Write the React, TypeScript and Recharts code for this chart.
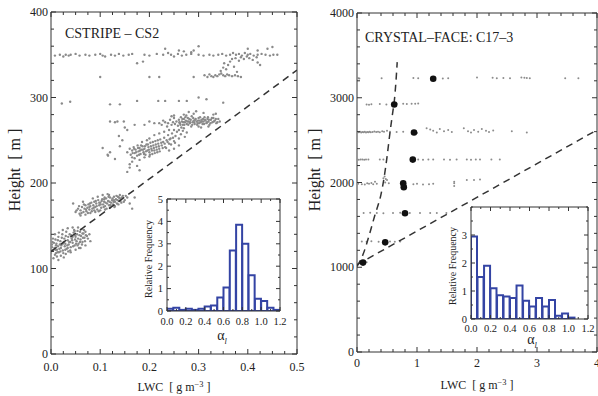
import React from 'react';
import { ScatterChart, Scatter, XAxis, YAxis, ComposedChart, Bar } from 'recharts';

const FONT = '"Liberation Serif", "Times New Roman", serif';

// ---------- Left panel (CSTRIPE - CS2): LWC [g m^-3], Height [m] ----------
const cs2Row350 = [
  [0.008, 349], [0.018, 350], [0.025, 348], [0.03, 350], [0.036, 349], [0.04, 350], [0.05, 351], [0.058, 349],
  [0.07, 350], [0.078, 349], [0.09, 350], [0.1, 351], [0.105, 349], [0.11, 348], [0.122, 350], [0.13, 349],
  [0.138, 351], [0.147, 349], [0.158, 350], [0.165, 351], [0.19, 350], [0.2, 349], [0.215, 351], [0.228, 350],
  [0.238, 352], [0.244, 350], [0.25, 348], [0.258, 351], [0.266, 349], [0.275, 350], [0.285, 351], [0.3, 350],
  [0.31, 349], [0.322, 350], [0.33, 349], [0.34, 350], [0.348, 351], [0.356, 349], [0.364, 350], [0.37, 352],
  [0.376, 350], [0.382, 351], [0.388, 349], [0.394, 352], [0.4, 350], [0.405, 351], [0.412, 349], [0.42, 350],
  [0.428, 351], [0.436, 350], [0.445, 349], [0.452, 350], [0.46, 350],
  [0.232, 357], [0.3, 360], [0.26, 355], [0.27, 354], [0.4, 357], [0.42, 355], [0.44, 357], [0.45, 359],
  [0.187, 342], [0.285, 353], [0.29, 355],
];
const cs2Upper = [
  [0.312, 326], [0.318, 324], [0.322, 327], [0.326, 325], [0.33, 324], [0.334, 326], [0.338, 325], [0.342, 327],
  [0.346, 328], [0.35, 326], [0.354, 325], [0.358, 327], [0.362, 326], [0.368, 325], [0.374, 326], [0.38, 325],
  [0.386, 324], [0.345, 331], [0.35, 335], [0.352, 340], [0.356, 333], [0.36, 338], [0.364, 342], [0.368, 345],
  [0.372, 336], [0.375, 346], [0.378, 330], [0.382, 343], [0.386, 347], [0.392, 345], [0.398, 348], [0.403, 346],
  [0.41, 344], [0.418, 347], [0.425, 338], [0.42, 341],
  [0.1, 324], [0.2, 324], [0.22, 324], [0.29, 324], [0.175, 340],
];
const cs2Row295 = [
  [0.022, 293], [0.039, 295], [0.12, 292], [0.14, 292], [0.175, 296], [0.218, 296], [0.232, 296], [0.26, 296],
  [0.276, 296], [0.35, 294], [0.3, 300], [0.316, 298],
];
const cs2Mid270 = [
  [0.22, 270], [0.225, 268], [0.228, 273], [0.232, 271], [0.236, 266], [0.238, 270], [0.242, 274], [0.245, 268],
  [0.248, 271], [0.25, 276], [0.252, 269], [0.255, 272], [0.258, 267], [0.26, 274], [0.262, 270], [0.264, 277],
  [0.266, 272], [0.268, 268], [0.27, 275], [0.272, 271], [0.274, 273], [0.276, 269], [0.278, 276], [0.28, 272],
  [0.282, 270], [0.284, 274], [0.286, 278], [0.288, 271], [0.29, 273], [0.292, 269], [0.294, 275], [0.296, 272],
  [0.298, 270], [0.3, 276], [0.302, 273], [0.304, 271], [0.306, 274], [0.308, 269], [0.31, 272], [0.312, 277],
  [0.314, 273], [0.316, 270], [0.318, 275], [0.32, 272], [0.322, 268], [0.325, 274], [0.328, 271], [0.33, 276],
  [0.333, 273], [0.336, 270], [0.34, 275], [0.343, 272], [0.27, 280], [0.28, 283], [0.29, 281], [0.31, 282],
  [0.33, 280], [0.25, 279], [0.265, 265], [0.285, 266], [0.305, 265], [0.32, 266], [0.335, 281], [0.24, 262],
  [0.26, 262], [0.245, 278], [0.275, 279], [0.295, 284], [0.3, 266], [0.2, 272], [0.21, 270], [0.19, 268],
];
const cs2Mid270Core = [
  [0.261, 271], [0.263, 268], [0.267, 275], [0.269, 271], [0.271, 268], [0.273, 277], [0.277, 272], [0.279, 268],
  [0.281, 275], [0.283, 271], [0.287, 268], [0.289, 276], [0.291, 271], [0.293, 274], [0.297, 268], [0.299, 273],
  [0.301, 270], [0.303, 277], [0.307, 272], [0.309, 275], [0.311, 269], [0.313, 274], [0.317, 271], [0.319, 277],
  [0.321, 274], [0.324, 270], [0.327, 276], [0.331, 272], [0.335, 275], [0.338, 271],
];
const cs2Mid240 = [
  [0.155, 236], [0.16, 240], [0.162, 233], [0.165, 238], [0.168, 242], [0.17, 235], [0.172, 239], [0.175, 232],
  [0.176, 244], [0.178, 237], [0.18, 241], [0.182, 234], [0.184, 239], [0.186, 243], [0.188, 236], [0.19, 240],
  [0.192, 233], [0.194, 245], [0.196, 238], [0.198, 242], [0.2, 236], [0.202, 247], [0.204, 240], [0.206, 234],
  [0.208, 244], [0.21, 238], [0.212, 249], [0.214, 242], [0.216, 236], [0.218, 246], [0.22, 240], [0.222, 251],
  [0.225, 244], [0.228, 248], [0.23, 253], [0.232, 242], [0.235, 250], [0.238, 256], [0.24, 246], [0.243, 252],
  [0.246, 258], [0.25, 249], [0.253, 255], [0.256, 260], [0.26, 252], [0.264, 257], [0.268, 261], [0.272, 254],
  [0.276, 259], [0.21, 256], [0.22, 258], [0.2, 252], [0.23, 260], [0.25, 262], [0.185, 248], [0.195, 250],
  [0.27, 264], [0.24, 238], [0.25, 240], [0.26, 244], [0.17, 229], [0.19, 230], [0.2, 231], [0.18, 227],
  [0.165, 225], [0.175, 220],
];
const cs2Mid240Core = [
  [0.166, 235], [0.169, 240], [0.173, 236], [0.177, 241], [0.179, 233], [0.181, 238], [0.183, 244], [0.187, 239],
  [0.189, 234], [0.191, 243], [0.193, 237], [0.197, 245], [0.199, 239], [0.201, 233], [0.203, 243], [0.205, 238],
  [0.207, 248], [0.209, 241], [0.211, 235], [0.213, 245], [0.215, 239], [0.217, 250], [0.219, 243], [0.221, 237],
  [0.224, 247], [0.227, 241], [0.231, 246], [0.234, 241], [0.237, 248], [0.241, 251], [0.244, 245], [0.248, 253],
  [0.252, 247],
];
const cs2Scatter = [
  [0.13, 228], [0.16, 222], [0.165, 230], [0.115, 233], [0.138, 255], [0.14, 243], [0.12, 272], [0.13, 271],
  [0.135, 272], [0.148, 272], [0.155, 262], [0.15, 265], [0.17, 268], [0.116, 232], [0.155, 213], [0.16, 218],
  [0.18, 215], [0.105, 241], [0.12, 236], [0.145, 250],
];
const cs2Low172 = [
  [0.05, 166], [0.055, 170], [0.058, 164], [0.06, 168], [0.063, 172], [0.066, 166], [0.068, 170], [0.07, 174],
  [0.072, 167], [0.074, 171], [0.076, 175], [0.078, 169], [0.08, 173], [0.082, 177], [0.084, 170], [0.086, 174],
  [0.088, 178], [0.09, 172], [0.092, 176], [0.094, 169], [0.096, 180], [0.098, 174], [0.1, 177], [0.102, 171],
  [0.104, 181], [0.106, 175], [0.108, 178], [0.11, 173], [0.112, 182], [0.114, 176], [0.116, 179], [0.118, 174],
  [0.12, 183], [0.122, 177], [0.124, 180], [0.126, 175], [0.128, 184], [0.13, 178], [0.132, 181], [0.134, 176],
  [0.136, 184], [0.138, 179], [0.14, 182], [0.143, 177], [0.146, 185], [0.15, 180], [0.155, 183], [0.06, 162],
  [0.07, 163], [0.08, 165], [0.09, 166], [0.1, 168], [0.11, 169], [0.12, 171], [0.13, 173], [0.14, 186],
  [0.085, 182], [0.095, 184], [0.105, 186], [0.115, 187], [0.16, 176], [0.165, 170], [0.045, 176], [0.065, 178],
  [0.17, 183],
];
const cs2Low172Core = [
  [0.052, 168], [0.057, 173], [0.062, 165], [0.067, 175], [0.071, 169], [0.075, 165], [0.079, 176], [0.083, 167],
  [0.087, 171], [0.091, 179], [0.093, 173], [0.097, 167], [0.101, 175], [0.103, 179], [0.107, 172], [0.109, 183],
  [0.111, 177], [0.113, 170], [0.117, 184], [0.119, 178], [0.121, 174], [0.125, 182], [0.127, 178], [0.129, 172],
  [0.133, 185], [0.135, 180], [0.137, 175], [0.141, 179], [0.144, 183], [0.148, 178], [0.152, 185], [0.078, 172],
  [0.088, 168], [0.098, 177], [0.108, 181], [0.118, 186], [0.128, 180], [0.138, 183],
];
const cs2Low130 = [
  [0.0, 118], [0.002, 125], [0.004, 121], [0.006, 130], [0.008, 116], [0.01, 127], [0.012, 122], [0.014, 133],
  [0.016, 119], [0.018, 128], [0.02, 124], [0.022, 136], [0.024, 121], [0.026, 131], [0.028, 126], [0.03, 138],
  [0.032, 123], [0.034, 133], [0.036, 128], [0.038, 140], [0.04, 125], [0.042, 135], [0.044, 130], [0.046, 142],
  [0.048, 127], [0.05, 137], [0.052, 132], [0.054, 144], [0.056, 129], [0.058, 139], [0.06, 134], [0.062, 146],
  [0.064, 131], [0.066, 141], [0.068, 136], [0.07, 143], [0.073, 138], [0.004, 135], [0.008, 140], [0.012, 114],
  [0.02, 115], [0.03, 117], [0.04, 119], [0.05, 122], [0.016, 142], [0.024, 145], [0.034, 147], [0.044, 148],
  [0.002, 128], [0.01, 118], [0.026, 113], [0.078, 140], [0.08, 132], [0.07, 127], [0.06, 124], [0.005, 112],
  [0.015, 110], [0.035, 120], [0.055, 148], [0.048, 144],
];
const cs2Low130Core = [
  [0.001, 121], [0.003, 131], [0.007, 124], [0.009, 134], [0.011, 129], [0.013, 119], [0.015, 137], [0.017, 123],
  [0.019, 132], [0.021, 127], [0.023, 140], [0.025, 118], [0.027, 135], [0.029, 129], [0.031, 143], [0.033, 127],
  [0.035, 137], [0.037, 131], [0.039, 121], [0.041, 139], [0.043, 133], [0.045, 126], [0.047, 145], [0.049, 134],
  [0.051, 129], [0.053, 140], [0.055, 135], [0.057, 124], [0.059, 143], [0.061, 138], [0.063, 128], [0.065, 136],
  [0.067, 145], [0.069, 132], [0.071, 139], [0.075, 135], [0.009, 122], [0.019, 120], [0.029, 122], [0.039, 131],
  [0.049, 139], [0.059, 131], [0.014, 126], [0.024, 129], [0.034, 124], [0.044, 137], [0.054, 127], [0.064, 141],
];
const cs2Dashed = [[0, 120], [0.5, 332]];

// ---------- Right panel (CRYSTAL-FACE: C17-3) ----------
const c17Rows = [
  [0.0, 3235], [0.02, 3230], [0.04, 3228], [0.41, 3230], [0.94, 3232], [1.02, 3230], [1.43, 3228], [1.52, 3230],
  [2.0, 3240], [2.26, 3235], [2.33, 3230], [2.44, 3232], [2.55, 3230], [2.74, 3240], [2.79, 3235], [2.83, 3232],
  [2.88, 3230], [3.47, 3230], [3.69, 3230],
  [0.16, 2920], [0.2, 2918], [0.24, 2922], [0.38, 2925], [0.49, 2920], [0.66, 2928], [0.77, 2930], [0.83, 2925],
  [0.91, 2930], [0.97, 2928], [1.02, 2932],
  [0.0, 2595], [0.03, 2592], [0.05, 2598], [0.07, 2590], [0.09, 2596], [0.11, 2593], [0.13, 2599], [0.15, 2591],
  [0.17, 2597], [0.19, 2594], [0.21, 2600], [0.23, 2592], [0.26, 2597], [0.29, 2603], [0.32, 2595], [0.35, 2600],
  [0.38, 2594], [0.42, 2605], [0.45, 2598], [0.5, 2610], [0.55, 2600], [0.66, 2595], [0.77, 2600], [1.0, 2585],
  [1.16, 2640], [1.22, 2625], [1.27, 2610], [1.33, 2590], [1.38, 2630], [1.45, 2605], [1.52, 2620], [1.58, 2595],
  [1.78, 2640], [1.85, 2605], [1.9, 2590], [1.95, 2620], [2.02, 2600], [2.08, 2630], [2.15, 2610], [2.2, 2595],
  [2.27, 2615], [2.58, 2605], [2.83, 2590],
  [0.0, 2270], [0.03, 2268], [0.06, 2272], [0.09, 2270], [0.12, 2268], [0.15, 2271], [0.19, 2270], [0.38, 2272],
  [0.44, 2270], [1.02, 2270], [1.1, 2268], [1.19, 2272], [1.27, 2270], [1.45, 2270], [1.55, 2268], [1.66, 2272],
  [1.83, 2270], [1.9, 2268], [1.98, 2272], [2.05, 2270], [2.24, 2270], [2.38, 2272],
  [0.02, 1985], [0.08, 1980], [0.13, 1975], [0.17, 1990], [0.2, 1985], [0.24, 1995], [0.27, 1980], [0.3, 2010],
  [0.33, 1985], [0.47, 2000], [0.5, 2030], [0.53, 1990], [0.44, 2050], [0.46, 2070], [0.48, 2040], [0.94, 1980],
  [1.0, 1985], [1.1, 1975], [1.2, 1980], [1.27, 1985], [1.62, 1960], [1.62, 1990], [1.62, 2010], [1.83, 2030],
  [1.95, 2030], [2.05, 2035],
  [0.11, 1640], [0.22, 1642], [0.33, 1640], [0.44, 1638], [0.6, 1640], [0.72, 1642], [0.88, 1640], [1.05, 1640],
  [1.22, 1641], [1.33, 1640], [1.49, 1640],
  [0.08, 1305], [0.16, 1300], [0.24, 1306], [0.36, 1302], [0.55, 1305], [0.63, 1300], [0.72, 1303],
  [0.05, 1055], [0.1, 1050], [0.16, 1060],
];
const c17Means = [
  [0.1, 1055], [0.47, 1294], [0.8, 1637], [0.77, 1990], [0.78, 1945], [0.93, 2270], [0.95, 2590], [0.62, 2920],
  [1.27, 3225],
];
const c17CurveDashed = [
  [0, 1010], [0.1, 1150], [0.2, 1370], [0.3, 1620], [0.4, 1860], [0.45, 2050], [0.5, 2300], [0.55, 2590],
  [0.6, 2850], [0.62, 2950], [0.65, 3200], [0.67, 3420],
];
const c17LineDashed = [[0, 1030], [4, 2620]];

// ---------- Insets: relative frequency of alpha_l ----------
const alphaBins = [
  0.033, 0.1, 0.167, 0.233, 0.3, 0.367, 0.433, 0.5, 0.567, 0.633, 0.7, 0.767, 0.833, 0.9, 0.967, 1.033, 1.1, 1.167,
];
const cs2Freq = [0.1, 0.15, 0.05, 0.1, 0.05, 0.1, 0.2, 0.25, 0.6, 1.05, 2.7, 3.85, 3.0, 1.6, 0.55, 0.45, 0.15, 0.05];
const c17Freq = [2.95, 1.5, 1.9, 1.1, 0.85, 0.8, 0.75, 1.2, 0.65, 0.45, 0.75, 0.45, 0.68, 0.12, 0.2, 0.05, 0, 0];

// ---------- Ticks ----------
const cs2XMajor = [0, 0.1, 0.2, 0.3, 0.4, 0.5];
const cs2YMajor = [0, 100, 200, 300, 400];
const c17XMajor = [0, 1, 2, 3, 4];
const c17YMajor = [0, 1000, 2000, 3000, 4000];
const alphaXMajor = [0, 0.2, 0.4, 0.6, 0.8, 1.0, 1.2];
const cs2FreqYMajor = [0, 1, 2, 3, 4, 5];
const c17FreqYMajor = [0, 1, 2, 3];

const range = (a: number, b: number, s: number) => {
  const r: number[] = [];
  for (let i = 0; a + i * s <= b + 1e-9; i++) r.push(+(a + i * s).toFixed(6));
  return r;
};

const toXY = (pts: number[][]) => pts.map(([x, y]) => ({ x, y }));

function mkTick(
  side: 'bottom' | 'top' | 'left' | 'right',
  majors: number[],
  fmt: (v: number) => string,
  fs: number,
  maj: number,
  mn: number,
  off: number,
  labels: boolean,
) {
  return (p: any) => {
    const v = Number(p.payload.value);
    const isMaj = majors.some((m) => Math.abs(m - v) < 1e-9);
    const L = isMaj ? maj : mn;
    const x = p.x;
    const y = p.y;
    let ln: number[];
    if (side === 'bottom') ln = [x, y, x, y - L];
    else if (side === 'top') ln = [x, y, x, y + L];
    else if (side === 'left') ln = [x, y, x + L, y];
    else ln = [x, y, x - L, y];
    let label: React.ReactNode = null;
    if (labels && isMaj) {
      const common = { fill: '#222', fontFamily: FONT, fontSize: fs, dominantBaseline: 'central' as const };
      if (side === 'bottom')
        label = (
          <text x={x} y={y + off} textAnchor="middle" {...common}>
            {fmt(v)}
          </text>
        );
      else if (side === 'left')
        label = (
          <text x={x - off} y={y} textAnchor="end" {...common}>
            {fmt(v)}
          </text>
        );
    }
    return (
      <g>
        <line x1={ln[0]} y1={ln[1]} x2={ln[2]} y2={ln[3]} stroke="#333" strokeWidth={1} />
        {label}
      </g>
    );
  };
}

type PanelProps = {
  l: number;
  t: number;
  r: number;
  b: number;
  xDomain: [number, number];
  yDomain: [number, number];
  xMajor: number[];
  xMinor: number[];
  yMajor: number[];
  yMinor: number[];
  xFmt: (v: number) => string;
  yFmt: (v: number) => string;
  fs: number;
  maj: number;
  mn: number;
  xOff: number;
  yOff: number;
  white?: boolean;
  barData?: { x: number; y: number }[];
  children: React.ReactNode;
};

const noShape = () => <g />;

function Panel(pp: PanelProps) {
  const { l, t, r, b } = pp;
  // frame axes (top / right) get 1px of room so that they are drawn
  const margin = { left: l - 30, top: t - 1, right: 598 - r - 1, bottom: 396 - b - 30 };
  const xt = Array.from(new Set([...pp.xMajor, ...pp.xMinor])).sort((a, c) => a - c);
  const yt = Array.from(new Set([...pp.yMajor, ...pp.yMinor])).sort((a, c) => a - c);
  const axisLine = { stroke: '#333', strokeWidth: 1 };
  const frameAnchor = [
    { x: pp.xDomain[0], y: pp.yDomain[0] },
    { x: pp.xDomain[1], y: pp.yDomain[1] },
  ];
  const axes = [
    <XAxis
      key="xb"
      xAxisId="b"
      type="number"
      dataKey="x"
      domain={pp.xDomain}
      allowDataOverflow
      ticks={xt}
      interval={0}
      tickSize={0}
      tickMargin={0}
      height={30}
      axisLine={axisLine}
      tickLine={false}
      tick={mkTick('bottom', pp.xMajor, pp.xFmt, pp.fs, pp.maj, pp.mn, pp.xOff, true)}
    />,
    <XAxis
      key="xt"
      xAxisId="t"
      orientation="top"
      type="number"
      dataKey="x"
      domain={pp.xDomain}
      allowDataOverflow
      ticks={xt}
      interval={0}
      tickSize={0}
      tickMargin={0}
      height={1}
      axisLine={axisLine}
      tickLine={false}
      tick={mkTick('top', pp.xMajor, pp.xFmt, pp.fs, pp.maj, pp.mn, 0, false)}
    />,
    <YAxis
      key="yl"
      yAxisId="l"
      type="number"
      dataKey="y"
      domain={pp.yDomain}
      allowDataOverflow
      ticks={yt}
      interval={0}
      tickSize={0}
      tickMargin={0}
      width={30}
      axisLine={axisLine}
      tickLine={false}
      tick={mkTick('left', pp.yMajor, pp.yFmt, pp.fs, pp.maj, pp.mn, pp.yOff, true)}
    />,
    <YAxis
      key="yr"
      yAxisId="r"
      orientation="right"
      type="number"
      dataKey="y"
      domain={pp.yDomain}
      allowDataOverflow
      ticks={yt}
      interval={0}
      tickSize={0}
      tickMargin={0}
      width={1}
      axisLine={axisLine}
      tickLine={false}
      tick={mkTick('right', pp.yMajor, pp.yFmt, pp.fs, pp.maj, pp.mn, 0, false)}
    />,
    <Scatter
      key="frame"
      xAxisId="t"
      yAxisId="r"
      data={frameAnchor}
      dataKey="y"
      shape={noShape}
      isAnimationActive={false}
    />,
  ];
  return (
    <>
      {pp.white ? (
        <div style={{ position: 'absolute', left: l, top: t, width: r - l, height: b - t, background: '#fff' }} />
      ) : null}
      <div style={{ position: 'absolute', left: 0, top: 0 }}>
        {pp.barData ? (
          <ComposedChart width={598} height={396} margin={margin} data={pp.barData} barCategoryGap={0} barGap={0}>
            {axes}
            {pp.children}
          </ComposedChart>
        ) : (
          <ScatterChart width={598} height={396} margin={margin}>
            {axes}
            {pp.children}
          </ScatterChart>
        )}
      </div>
    </>
  );
}

const dot = (r: number, fill: string) => (p: any) => <circle cx={p.cx} cy={p.cy} r={r} fill={fill} />;
const dashStyle = { stroke: '#333', strokeWidth: 1.5, strokeDasharray: '7 5', fill: 'none' };

const Txt = (props: {
  x: number;
  y: number;
  size: number;
  rot?: boolean;
  start?: boolean;
  children: React.ReactNode;
}) => (
  <div
    style={{
      position: 'absolute',
      left: props.x,
      top: props.y,
      transform: `translate(${props.start ? '0' : '-50%'}, -50%)${props.rot ? ' rotate(-90deg)' : ''}`,
      fontSize: props.size,
      fontFamily: FONT,
      color: '#222',
      whiteSpace: 'nowrap',
      lineHeight: 1,
    }}
  >
    {props.children}
  </div>
);

export default function App() {
  const cs2All = toXY([
    ...cs2Row350,
    ...cs2Upper,
    ...cs2Row295,
    ...cs2Mid270,
    ...cs2Mid270Core,
    ...cs2Mid240,
    ...cs2Mid240Core,
    ...cs2Scatter,
    ...cs2Low172,
    ...cs2Low172Core,
    ...cs2Low130,
    ...cs2Low130Core,
  ]);
  const f1 = (v: number) => v.toFixed(1);
  const f0 = (v: number) => String(v);
  const cs2Bars = alphaBins.map((x, i) => ({ x, y: cs2Freq[i] }));
  const c17Bars = alphaBins.map((x, i) => ({ x, y: c17Freq[i] }));
  const lwc = (
    <>
      LWC&nbsp; [ g m<sup style={{ fontSize: '0.7em', verticalAlign: '0.55em' }}>−3</sup> ]
    </>
  );
  const alpha = (
    <>
      α<sub style={{ fontSize: '0.6em', fontStyle: 'italic' }}>l</sub>
    </>
  );
  return (
    <div
      style={{
        position: 'absolute',
        left: 0,
        top: 0,
        width: 598,
        height: 396,
        overflow: 'hidden',
        background: '#fff',
      }}
    >
      {/* Left main panel */}
      <Panel
        l={51}
        t={12}
        r={297}
        b={354}
        xDomain={[0, 0.5]}
        yDomain={[0, 400]}
        xMajor={cs2XMajor}
        xMinor={range(0, 0.5, 0.025)}
        yMajor={cs2YMajor}
        yMinor={range(0, 400, 20)}
        xFmt={f1}
        yFmt={f0}
        fs={12}
        maj={5}
        mn={3}
        xOff={12.5}
        yOff={3}
      >
        <Scatter xAxisId="b" yAxisId="l" data={cs2All} shape={dot(1.2, '#8a8a8a')} isAnimationActive={false} />
        <Scatter
          xAxisId="b"
          yAxisId="l"
          data={toXY(cs2Dashed)}
          line={dashStyle}
          shape={noShape}
          isAnimationActive={false}
        />
      </Panel>

      {/* Right main panel */}
      <Panel
        l={357}
        t={13}
        r={597}
        b={352}
        xDomain={[0, 4]}
        yDomain={[0, 4000]}
        xMajor={c17XMajor}
        xMinor={range(0, 4, 0.2)}
        yMajor={c17YMajor}
        yMinor={range(0, 4000, 200)}
        xFmt={f0}
        yFmt={f0}
        fs={12}
        maj={5}
        mn={3}
        xOff={11}
        yOff={3}
      >
        <Scatter xAxisId="b" yAxisId="l" data={toXY(c17Rows)} shape={dot(1, '#8c8c8c')} isAnimationActive={false} />
        <Scatter
          xAxisId="b"
          yAxisId="l"
          data={toXY(c17CurveDashed)}
          line={dashStyle}
          lineJointType="monotoneX"
          shape={noShape}
          isAnimationActive={false}
        />
        <Scatter
          xAxisId="b"
          yAxisId="l"
          data={toXY(c17LineDashed)}
          line={dashStyle}
          shape={noShape}
          isAnimationActive={false}
        />
        <Scatter xAxisId="b" yAxisId="l" data={toXY(c17Means)} shape={dot(3.3, '#111')} isAnimationActive={false} />
      </Panel>

      {/* Left inset */}
      <Panel
        l={167}
        t={199}
        r={280}
        b={311}
        xDomain={[0, 1.2]}
        yDomain={[0, 5]}
        xMajor={alphaXMajor}
        xMinor={range(0, 1.2, 0.1)}
        yMajor={cs2FreqYMajor}
        yMinor={range(0, 5, 0.5)}
        xFmt={f1}
        yFmt={f0}
        fs={10.5}
        maj={4}
        mn={2}
        xOff={10}
        yOff={4}
        white
        barData={cs2Bars}
      >
        <Bar xAxisId="b" yAxisId="l" dataKey="y" fill="#fff" stroke="#3444a4" strokeWidth={2} isAnimationActive={false} />
      </Panel>

      {/* Right inset */}
      <Panel
        l={471}
        t={207}
        r={588}
        b={319}
        xDomain={[0, 1.2]}
        yDomain={[0, 4]}
        xMajor={alphaXMajor}
        xMinor={range(0, 1.2, 0.1)}
        yMajor={c17FreqYMajor}
        yMinor={range(0, 4, 0.5)}
        xFmt={f1}
        yFmt={f0}
        fs={10.5}
        maj={4}
        mn={2}
        xOff={9}
        yOff={4}
        white
        barData={c17Bars}
      >
        <Bar xAxisId="b" yAxisId="l" dataKey="y" fill="#fff" stroke="#3444a4" strokeWidth={2} isAnimationActive={false} />
      </Panel>

      {/* Text */}
      <Txt x={65} y={34} size={14} start>
        CSTRIPE – CS2
      </Txt>
      <Txt x={365} y={38} size={14} start>
        CRYSTAL–FACE: C17–3
      </Txt>
      <Txt x={15} y={170} size={16} rot>
        Height&nbsp; [ m ]
      </Txt>
      <Txt x={315} y={170} size={16} rot>
        Height&nbsp; [ m ]
      </Txt>
      <Txt x={174} y={387} size={12}>
        {lwc}
      </Txt>
      <Txt x={477} y={385} size={12}>
        {lwc}
      </Txt>
      <Txt x={149} y={259} size={10} rot>
        Relative Frequency
      </Txt>
      <Txt x={453} y={266} size={10} rot>
        Relative Frequency
      </Txt>
      <Txt x={222} y={338} size={14}>
        {alpha}
      </Txt>
      <Txt x={532} y={342} size={14}>
        {alpha}
      </Txt>
    </div>
  );
}
